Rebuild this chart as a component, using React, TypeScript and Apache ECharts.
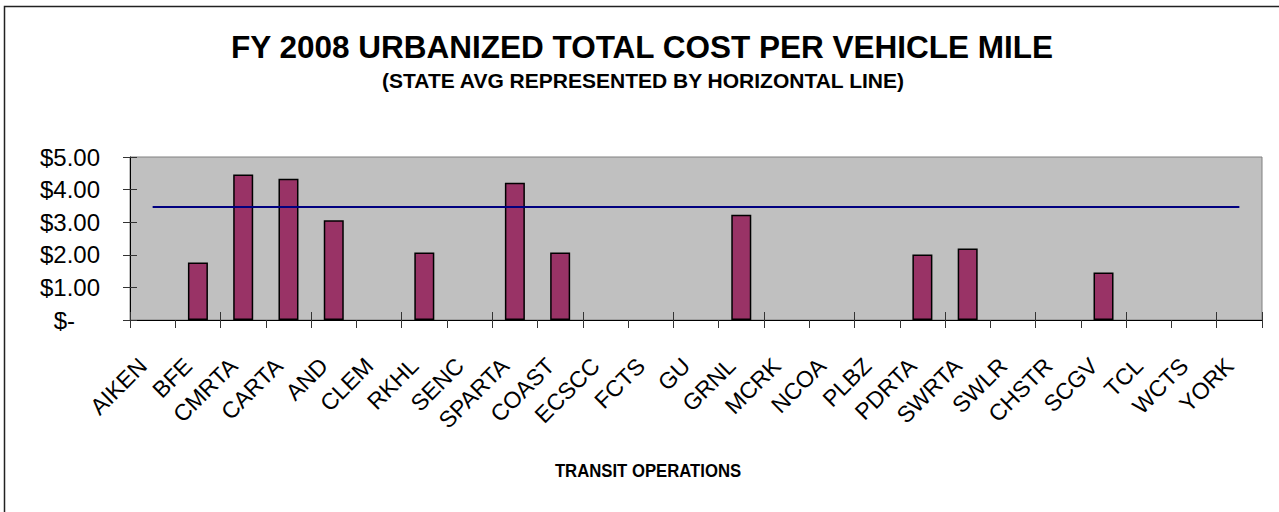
import React, { useEffect, useRef } from "react";
import * as echarts from "echarts";

const categories = [
  "AIKEN", "BFE", "CMRTA", "CARTA", "AND", "CLEM", "RKHL", "SENC", "SPARTA", "COAST",
  "ECSCC", "FCTS", "GU", "GRNL", "MCRK", "NCOA", "PLBZ", "PDRTA", "SWRTA", "SWLR",
  "CHSTR", "SCGV", "TCL", "WCTS", "YORK",
];
const costPerMile: (number | null)[] = [
  null, 1.76, 4.46, 4.33, 3.06, null, 2.07, null, 4.21, 2.07,
  null, null, null, 3.23, null, null, null, 2.01, 2.19, null,
  null, 1.46, null, null, null,
];
const stateAvg = 3.47;
const stateAvgLine = categories.map(() => stateAvg);
const yTicks = { min: 0, max: 5, interval: 1 };

const titleText = "FY 2008 URBANIZED TOTAL COST PER VEHICLE MILE";
const subtitleText = "(STATE AVG REPRESENTED BY HORIZONTAL LINE)";
const xAxisTitle = "TRANSIT OPERATIONS";

const FONT = "'Liberation Sans', Arial, sans-serif";

export default function App() {
  const ref = useRef<HTMLDivElement>(null);
  useEffect(() => {
    if (!ref.current) return;
    const chart = echarts.init(ref.current, undefined, { renderer: "svg" });
    chart.setOption({
      animation: false,
      backgroundColor: "#ffffff",
      textStyle: { fontFamily: FONT, color: "#000" },
      grid: {
        left: 130,
        right: 17,
        top: 157,
        bottom: 192,
        show: true,
        backgroundColor: "#C0C0C0",
        borderColor: "#808080",
        borderWidth: 1,
        containLabel: false,
        outerBoundsMode: "none",
      },
      xAxis: [
        {
          type: "category",
          data: categories,
          position: "bottom",
          boundaryGap: true,
          axisLine: { show: true, lineStyle: { color: "#000", width: 1 } },
          axisTick: { show: true, inside: false, length: 8, lineStyle: { color: "#333" } },
          axisLabel: {
            interval: 0,
            rotate: 45,
            margin: 32,
            fontSize: 23,
            fontFamily: FONT,
            color: "#000",
            padding: [0, 14, 0, 0],
          },
          splitLine: { show: false },
        },
        {
          type: "category",
          data: categories,
          position: "bottom",
          boundaryGap: true,
          axisLine: { show: false },
          axisTick: { show: true, inside: true, length: 8, lineStyle: { color: "#333" } },
          axisLabel: { show: false },
          splitLine: { show: false },
        },
      ],
      yAxis: [
        {
          type: "value",
          min: yTicks.min,
          max: yTicks.max,
          interval: yTicks.interval,
          position: "left",
          axisLine: { show: true, lineStyle: { color: "#000", width: 1 } },
          axisTick: { show: true, inside: false, length: 7, lineStyle: { color: "#333" } },
          splitLine: { show: false },
          axisLabel: {
            margin: 30,
            fontSize: 24,
            fontFamily: FONT,
            color: "#000",
            formatter: (v: number) => (v === 0 ? "{z|$-}" : "$" + v.toFixed(2)),
            rich: {
              z: { fontSize: 24, fontFamily: FONT, color: "#000", padding: [0, 25, 0, 0] },
            },
          },
        },
        {
          type: "value",
          min: yTicks.min,
          max: yTicks.max,
          interval: yTicks.interval,
          position: "left",
          axisLine: { show: false },
          axisTick: { show: true, inside: true, length: 7, lineStyle: { color: "#333" } },
          splitLine: { show: false },
          axisLabel: { show: false },
        },
      ],
      series: [
        {
          type: "bar",
          data: costPerMile,
          barWidth: 20,
          itemStyle: { color: "#993366", borderColor: "#000", borderWidth: 1.5 },
        },
        {
          type: "line",
          data: stateAvgLine,
          symbol: "none",
          lineStyle: { color: "#000080", width: 2 },
          z: 5,
        },
      ],
      graphic: [
        {
          type: "rect",
          shape: { x: 4.5, y: 6.5, width: 1400, height: 700 },
          style: { fill: "none", stroke: "#222", lineWidth: 1.5 },
          silent: true,
        },
        {
          type: "text",
          x: 642,
          y: 47,
          style: {
            text: titleText,
            fontSize: 31.5,
            fontWeight: "bold",
            fontFamily: FONT,
            fill: "#000",
            align: "center",
            verticalAlign: "middle",
          },
        },
        {
          type: "text",
          x: 643,
          y: 80,
          style: {
            text: subtitleText,
            fontSize: 21,
            fontWeight: "bold",
            fontFamily: FONT,
            fill: "#000",
            align: "center",
            verticalAlign: "middle",
          },
        },
        {
          type: "text",
          x: 648,
          y: 471,
          scaleX: 0.88,
          style: {
            text: xAxisTitle,
            fontSize: 19,
            fontWeight: "bold",
            fontFamily: FONT,
            fill: "#000",
            align: "center",
            verticalAlign: "middle",
          },
        },
      ],
    });
    return () => chart.dispose();
  }, []);
  return (
    <div
      ref={ref}
      style={{ position: "fixed", left: 0, top: 0, width: 1279, height: 512 }}
    />
  );
}
